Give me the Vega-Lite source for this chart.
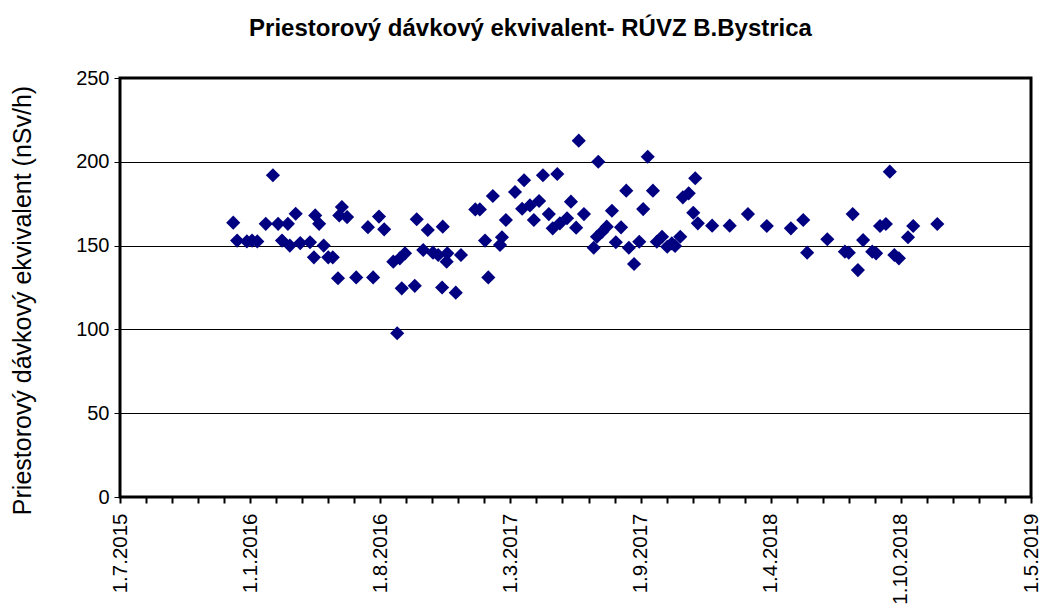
{
 "$schema": "https://vega.github.io/schema/vega-lite/v6.json",
 "autosize": "none",
 "width": 911, "height": 419,
 "padding": {"left": 120, "top": 78, "right": 9, "bottom": 113},
 "background": "white",
 "title": {"text": "Priestorový dávkový ekvivalent- RÚVZ B.Bystrica", "font": "Liberation Sans", "fontSize": 24, "fontWeight": "bold", "color": "black", "anchor": "middle", "frame": "group", "dx": -45, "offset": 27},
 "data": {"values": [
  {"date":"2015-12-22","v":163.7},{"date":"2015-12-28","v":153},{"date":"2016-01-12","v":152.5},{"date":"2016-01-20","v":153},{"date":"2016-01-28","v":152.5},
  {"date":"2016-02-10","v":163},{"date":"2016-02-21","v":192},{"date":"2016-02-29","v":163},{"date":"2016-03-06","v":153},{"date":"2016-03-15","v":163},
  {"date":"2016-03-18","v":150},{"date":"2016-03-27","v":169},{"date":"2016-04-03","v":151.5},{"date":"2016-04-18","v":152},{"date":"2016-04-24","v":143},
  {"date":"2016-04-26","v":168},{"date":"2016-05-02","v":163},{"date":"2016-05-09","v":150},{"date":"2016-05-16","v":143},{"date":"2016-05-23","v":143},
  {"date":"2016-05-31","v":130.5},{"date":"2016-06-02","v":168},{"date":"2016-06-06","v":173},{"date":"2016-06-14","v":167},{"date":"2016-06-28","v":131},
  {"date":"2016-07-16","v":161},{"date":"2016-07-24","v":131},{"date":"2016-08-02","v":167.3},{"date":"2016-08-10","v":159.7},{"date":"2016-08-24","v":140.4},
  {"date":"2016-08-30","v":97.7},{"date":"2016-09-03","v":142.4},{"date":"2016-09-06","v":124.5},{"date":"2016-09-11","v":145.4},{"date":"2016-09-26","v":126},
  {"date":"2016-09-29","v":165.7},{"date":"2016-10-09","v":147.4},{"date":"2016-10-16","v":159.3},{"date":"2016-10-24","v":145.8},{"date":"2016-11-01","v":144.4},
  {"date":"2016-11-08","v":161.3},{"date":"2016-11-07","v":125},{"date":"2016-11-15","v":145.4},{"date":"2016-11-14","v":140.4},{"date":"2016-11-28","v":121.9},
  {"date":"2016-12-06","v":144.4},{"date":"2016-12-28","v":171.6},{"date":"2017-01-04","v":171.6},{"date":"2017-01-12","v":153},{"date":"2017-01-17","v":131},
  {"date":"2017-01-24","v":179.6},{"date":"2017-02-04","v":150.4},{"date":"2017-02-07","v":155},{"date":"2017-02-13","v":165.3},{"date":"2017-02-27","v":182},
  {"date":"2017-03-13","v":189},{"date":"2017-03-10","v":172},{"date":"2017-03-22","v":174},{"date":"2017-04-05","v":176.6},{"date":"2017-04-11","v":192},
  {"date":"2017-03-28","v":165.3},{"date":"2017-04-20","v":168.8},{"date":"2017-05-03","v":192.7},{"date":"2017-04-26","v":160.3},{"date":"2017-05-07","v":163.3},
  {"date":"2017-05-18","v":166.3},{"date":"2017-05-24","v":176.2},{"date":"2017-06-01","v":160.7},{"date":"2017-06-05","v":212.6},{"date":"2017-06-13","v":168.8},
  {"date":"2017-06-28","v":148.7},{"date":"2017-07-03","v":155.3},{"date":"2017-07-05","v":200},{"date":"2017-07-11","v":158.3},{"date":"2017-07-18","v":161.3},
  {"date":"2017-07-26","v":170.8},{"date":"2017-08-01","v":152},{"date":"2017-08-09","v":160.9},{"date":"2017-08-17","v":182.8},{"date":"2017-08-21","v":148.7},
  {"date":"2017-08-29","v":139},{"date":"2017-09-06","v":152.3},{"date":"2017-09-12","v":171.8},{"date":"2017-09-19","v":203},{"date":"2017-09-27","v":182.8},
  {"date":"2017-10-03","v":152.3},{"date":"2017-10-11","v":155.3},{"date":"2017-10-19","v":149.3},{"date":"2017-10-26","v":151.3},{"date":"2017-10-31","v":149.8},
  {"date":"2017-11-08","v":155.3},{"date":"2017-11-12","v":178.8},{"date":"2017-11-21","v":181.2},{"date":"2017-11-28","v":169.6},{"date":"2017-12-01","v":190.2},
  {"date":"2017-12-05","v":163.3},{"date":"2017-12-27","v":161.9},{"date":"2018-01-23","v":161.9},{"date":"2018-02-20","v":168.8},{"date":"2018-03-21","v":161.7},
  {"date":"2018-04-27","v":160.3},{"date":"2018-05-16","v":165.3},{"date":"2018-05-22","v":145.8},{"date":"2018-06-22","v":153.8},{"date":"2018-07-19","v":146.4},
  {"date":"2018-07-25","v":145.8},{"date":"2018-07-31","v":168.8},{"date":"2018-08-08","v":135.4},{"date":"2018-08-16","v":153.3},{"date":"2018-08-30","v":146.4},
  {"date":"2018-09-05","v":145.4},{"date":"2018-09-11","v":161.7},{"date":"2018-09-20","v":162.9},{"date":"2018-09-26","v":194.1},{"date":"2018-10-03","v":144.4},
  {"date":"2018-10-10","v":142.4},{"date":"2018-10-24","v":155},{"date":"2018-11-01","v":161.7},{"date":"2018-12-08","v":162.9}
 ]},
 "mark": {"type": "point", "shape": "diamond", "filled": true, "size": 200, "color": "#000080", "opacity": 1},
 "encoding": {
  "x": {"field": "date", "type": "temporal",
   "scale": {"domain": [1435708800000, 1556668800000], "nice": false},
   "axis": {
    "values": [1435708800000,1439164800000,1442620800000,1446076800000,1449532800000,1452988800000,1456444800000,1459900800000,1463356800000,1466812800000,1470268800000,1473724800000,1477180800000,1480636800000,1484092800000,1487548800000,1491004800000,1494460800000,1497916800000,1501372800000,1504828800000,1508284800000,1511740800000,1515196800000,1518652800000,1522108800000,1525564800000,1529020800000,1532476800000,1535932800000,1539388800000,1542844800000,1546300800000,1549756800000,1553212800000,1556668800000],
    "labelExpr": "(round((toNumber(datum.value)-1435708800000)/86400000) % 200 == 0) ? ['1.7.2015','1.1.2016','1.8.2016','1.3.2017','1.9.2017','1.4.2018','1.10.2018','1.5.2019'][round((toNumber(datum.value)-1435708800000)/17280000000)] : ''",
    "labelAngle": 270, "labelAlign": "right", "labelBaseline": "middle",
    "labelFont": "Liberation Sans", "labelFontSize": 20.5, "labelColor": "black", "labelPadding": 10,
    "labelOverlap": false, "labelBound": false, "labelFlush": false,
    "tickSize": 6, "tickColor": "black", "tickWidth": 2,
    "domain": false, "grid": false, "title": null
   }},
  "y": {"field": "v", "type": "quantitative",
   "scale": {"domain": [0, 250], "nice": false},
   "axis": {
    "values": [0, 50, 100, 150, 200, 250],
    "grid": true, "gridColor": "black", "gridWidth": 1, "gridOpacity": 1,
    "tickSize": 6, "tickColor": "black", "tickWidth": 1,
    "labelFont": "Liberation Sans", "labelFontSize": 20, "labelColor": "black", "labelPadding": 5,
    "domain": false,
    "title": "Priestorový dávkový ekvivalent (nSv/h)",
    "titleFont": "Liberation Sans", "titleFontSize": 25, "titleFontWeight": "normal", "titleColor": "black",
    "titleX": -98, "titleY": 222, "titleAngle": 270, "titleAlign": "center", "titleBaseline": "middle"
   }}
 },
 "config": {"view": {"stroke": "black", "strokeWidth": 3}}
}
